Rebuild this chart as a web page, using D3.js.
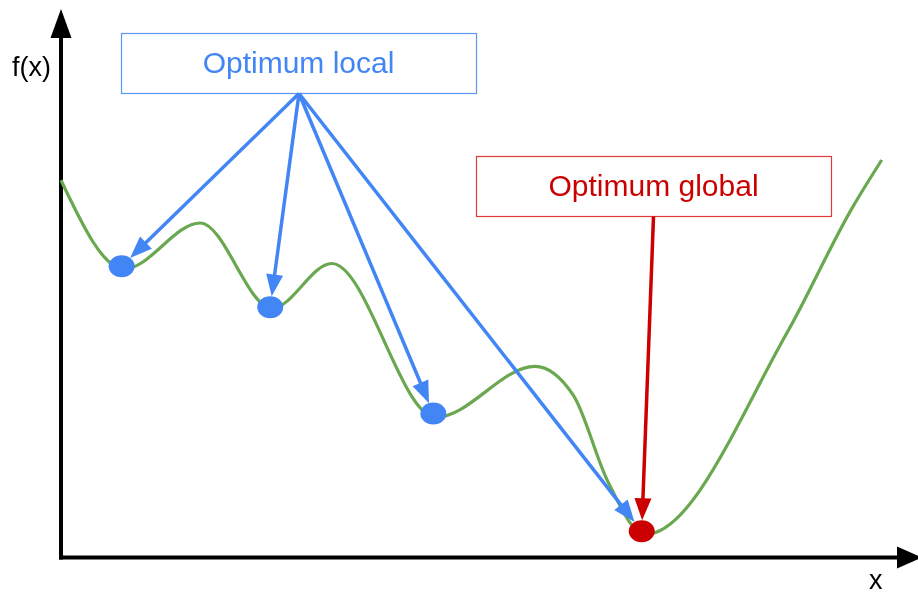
<!DOCTYPE html>
<html>
<head>
  <meta http-equiv="Content-Type" content="text/html; charset=UTF-8">
  <script src="https://d3js.org/d3.v7.min.js"></script>
  <style>
    body { margin:0;position:fixed;top:0;right:0;bottom:0;left:0;background:#fff; }
    text { font-family: "Liberation Sans", Arial, sans-serif; }
  </style>
</head>
<body>
  <svg width="918" height="594"></svg>
  <script>
    // the function f(x) (x and f(x) in 0..10 units)
    var curveX = [0, 0.74, 1.63, 2.47, 3.17, 4.39, 5.55, 6.00, 6.40, 6.84, 8.50, 9.27, 9.61];
    var curveY = [6.89, 5.27, 6.11, 4.55, 5.37, 2.56, 3.49, 2.96, 1.40, 0.42, 4.10, 6.40, 7.26];

    // local minima and the global one
    var localX = [0.71, 2.45, 4.36, 6.80];
    var localY = [5.32, 4.57, 2.63, 0.48];
    var globalX = [6.80];
    var globalY = [0.48];

    var localLabel = "Optimum local",
        globalLabel = "Optimum global",
        yLabel = "f(x)",
        xLabel = "x";

    var blue = "#4285f4", red = "#cc0000", green = "#6aa84f";
    var rx = 13, ry = 11;

    var svg = d3.select("svg");

    var x = d3.scaleLinear().domain([0, 10]).range([61, 915]);
    var y = d3.scaleLinear().domain([0, 10]).range([557.5, 10]);

    function arrowHead(x0, y0, x1, y1, len, hw) {
      var dx = x1 - x0, dy = y1 - y0, d = Math.sqrt(dx * dx + dy * dy);
      var ux = dx / d, uy = dy / d;
      var bx = x1 - ux * len, by = y1 - uy * len;
      return [[x1, y1], [bx - uy * hw, by + ux * hw], [bx + uy * hw, by - ux * hw]];
    }

    // point on the edge of the dot, coming from (x0, y0)
    function edge(x0, y0, cx, cy) {
      var dx = cx - x0, dy = cy - y0, d = Math.sqrt(dx * dx + dy * dy);
      var ux = dx / d, uy = dy / d;
      var t = 1 / Math.sqrt((ux / rx) * (ux / rx) + (uy / ry) * (uy / ry));
      return [cx - ux * t, cy - uy * t];
    }

    function arrow(g, x0, y0, x1, y1, color, len, hw, width) {
      var dx = x1 - x0, dy = y1 - y0, d = Math.sqrt(dx * dx + dy * dy);
      g.append("line")
        .attr("x1", x0).attr("y1", y0)
        .attr("x2", x1 - dx / d * (len - 2)).attr("y2", y1 - dy / d * (len - 2))
        .attr("stroke", color).attr("stroke-width", width);
      g.append("polygon")
        .attr("points", arrowHead(x0, y0, x1, y1, len, hw).join(" "))
        .attr("fill", color);
    }

    // axes
    var axes = svg.append("g");
    axes.append("line")
      .attr("x1", x(0)).attr("y1", y(0) + 2).attr("x2", x(0)).attr("y2", 30)
      .attr("stroke", "#000").attr("stroke-width", 4);
    axes.append("polygon")
      .attr("points", arrowHead(x(0), 200, x(0), 9, 29, 10.5).join(" "))
      .attr("fill", "#000");
    axes.append("line")
      .attr("x1", x(0) - 2).attr("y1", y(0)).attr("x2", 900).attr("y2", y(0))
      .attr("stroke", "#000").attr("stroke-width", 4);
    axes.append("polygon")
      .attr("points", arrowHead(700, y(0), 922, y(0), 25, 11).join(" "))
      .attr("fill", "#000");

    svg.append("text").attr("x", 12).attr("y", 76)
      .attr("font-size", 27).attr("fill", "#000").text(yLabel);
    svg.append("text").attr("x", 869).attr("y", 589)
      .attr("font-size", 27).attr("fill", "#000").text(xLabel);

    // curve
    var line = d3.line()
      .x(function(d) { return x(d[0]); })
      .y(function(d) { return y(d[1]); })
      .curve(d3.curveMonotoneX);

    svg.append("path")
      .datum(d3.zip(curveX, curveY))
      .attr("d", line)
      .attr("fill", "none")
      .attr("stroke", green)
      .attr("stroke-width", 3.2);

    // boxes
    var lb = { x: 121, y: 33, w: 355, h: 60 };
    var gb = { x: 476, y: 156, w: 355, h: 60 };

    svg.append("rect")
      .attr("x", lb.x + 0.5).attr("y", lb.y + 0.5).attr("width", lb.w).attr("height", lb.h)
      .attr("fill", "#fff").attr("stroke", "#5c97f2").attr("stroke-width", 1.2);
    svg.append("text")
      .attr("x", lb.x + lb.w / 2).attr("y", lb.y + 40)
      .attr("text-anchor", "middle").attr("font-size", 30)
      .attr("fill", blue).text(localLabel);

    svg.append("rect")
      .attr("x", gb.x + 0.5).attr("y", gb.y + 0.5).attr("width", gb.w).attr("height", gb.h)
      .attr("fill", "#fff").attr("stroke", "#e03a3a").attr("stroke-width", 1.2);
    svg.append("text")
      .attr("x", gb.x + gb.w / 2).attr("y", gb.y + 40)
      .attr("text-anchor", "middle").attr("font-size", 30)
      .attr("fill", red).text(globalLabel);

    // arrows
    var arrows = svg.append("g");
    var ox = lb.x + lb.w / 2 + 0.5, oy = lb.y + lb.h + 0.5;
    localX.forEach(function(v, i) {
      var e = edge(ox, oy, x(v), y(localY[i]));
      arrow(arrows, ox, oy, e[0], e[1], blue, 22, 8.5, 3.5);
    });
    var gx0 = gb.x + gb.w / 2, gy0 = gb.y + gb.h + 0.5;
    var ge = edge(gx0, gy0, x(globalX[0]), y(globalY[0]));
    arrow(arrows, gx0, gy0, ge[0], ge[1], red, 22, 8.5, 3.5);

    // dots
    svg.selectAll(".local")
      .data(d3.zip(localX, localY).slice(0, 3))
      .enter().append("ellipse")
      .attr("class", "local")
      .attr("cx", function(d) { return x(d[0]); })
      .attr("cy", function(d) { return y(d[1]); })
      .attr("rx", rx).attr("ry", ry)
      .attr("fill", blue);

    svg.selectAll(".global")
      .data(d3.zip(globalX, globalY))
      .enter().append("ellipse")
      .attr("class", "global")
      .attr("cx", function(d) { return x(d[0]); })
      .attr("cy", function(d) { return y(d[1]); })
      .attr("rx", rx).attr("ry", ry)
      .attr("fill", red);
  </script>
</body>
</html>
